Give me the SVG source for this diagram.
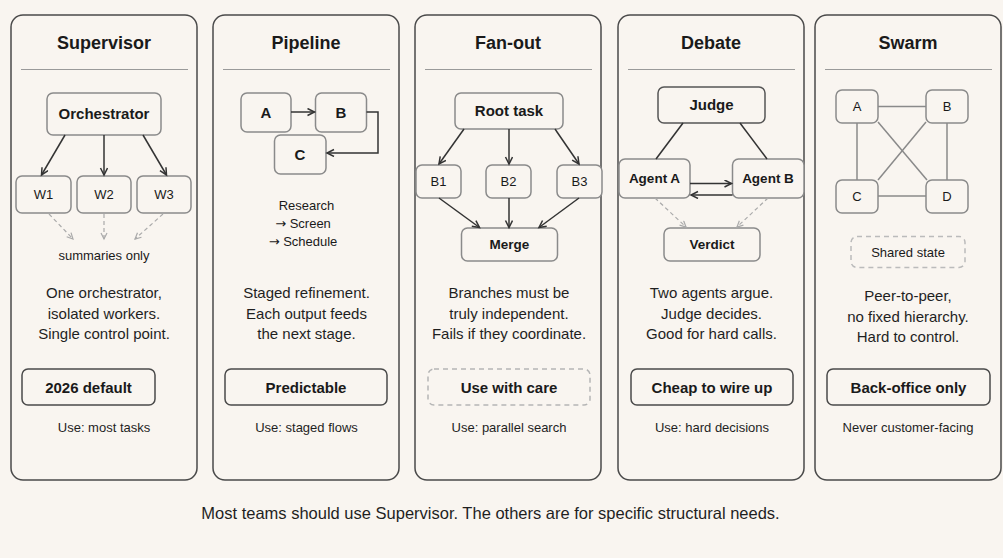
<svg xmlns="http://www.w3.org/2000/svg" width="1003" height="558" viewBox="0 0 1003 558">
<style>
.bg{fill:#f9f5f0}
.panel{fill:#f9f5f0;stroke:#4a4a4a;stroke-width:1.5}
.div{stroke:#9a9a9a;stroke-width:1}
.title{font-family:"Liberation Sans",Arial,sans-serif;font-weight:bold;font-size:18px;fill:#1a1a1a;text-anchor:middle}
.box{fill:#f9f5f0;stroke:#8a8a8a;stroke-width:1.5}
.boxd{fill:#f9f5f0;stroke:#555;stroke-width:1.5}
.nb{font-family:"Liberation Sans",Arial,sans-serif;font-weight:bold;font-size:15px;fill:#1a1a1a;text-anchor:middle}
.nbs{font-family:"Liberation Sans",Arial,sans-serif;font-weight:bold;font-size:13.5px;fill:#1a1a1a;text-anchor:middle}
.nn{font-family:"Liberation Sans",Arial,sans-serif;font-size:13px;fill:#1a1a1a;text-anchor:middle}
.ar{font-family:"DejaVu Sans",sans-serif}
.desc{font-family:"Liberation Sans",Arial,sans-serif;font-size:15px;fill:#1f1f1f;text-anchor:middle}
.use{font-family:"Liberation Sans",Arial,sans-serif;font-size:13px;fill:#1f1f1f;text-anchor:middle}
.badge{fill:none;stroke:#4a4a4a;stroke-width:1.5}
.badgedash{fill:none;stroke:#b5b5b5;stroke-width:1.5;stroke-dasharray:5 4}
.bt{font-family:"Liberation Sans",Arial,sans-serif;font-weight:bold;font-size:15px;fill:#1a1a1a;text-anchor:middle}
.arr{fill:none;stroke:#333;stroke-width:1.5;marker-end:url(#ah)}
.line{fill:none;stroke:#333;stroke-width:1.5}
.gline{fill:none;stroke:#8a8a8a;stroke-width:1.5}
.dash{fill:none;stroke:#aaa;stroke-width:1.2;stroke-dasharray:4 3;marker-end:url(#ahg)}
.foot{font-family:"Liberation Sans",Arial,sans-serif;font-size:16.5px;fill:#1f1f1f;text-anchor:middle}
</style>
<defs>
<marker id="ah" markerUnits="userSpaceOnUse" markerWidth="10" markerHeight="10" refX="8" refY="4" orient="auto"><path d="M1,0.5 L8,4 L1,7.5" fill="none" stroke="#333" stroke-width="1.5"/></marker>
<marker id="ahg" markerUnits="userSpaceOnUse" markerWidth="10" markerHeight="10" refX="7" refY="3.5" orient="auto"><path d="M1,0.5 L7,3.5 L1,6.5" fill="none" stroke="#aaa" stroke-width="1.2"/></marker>
</defs>
<rect class="bg" x="0" y="0" width="1003" height="558"/>

<!-- Panel 1: Supervisor -->
<g id="panel-supervisor">
<rect class="panel" x="11" y="15" width="186" height="465" rx="12"/>
<text class="title" x="104" y="48.5">Supervisor</text>
<line class="div" x1="21" y1="69.5" x2="188" y2="69.5"/>
<text class="desc" x="104" y="297.7">One orchestrator,</text>
<text class="desc" x="104" y="318.5">isolated workers.</text>
<text class="desc" x="104" y="339">Single control point.</text>
<rect class="badge" x="22" y="369" width="133" height="36" rx="6"/>
<text class="bt" x="88.5" y="392.5">2026 default</text>
<text class="use" x="104" y="431.5">Use: most tasks</text>
<text class="nn" x="104" y="259.5">summaries only</text>
</g>
<g id="node-orchestrator"><rect class="box" x="47" y="93" width="114" height="42" rx="6"/><text class="nb" x="104" y="119.4">Orchestrator</text></g>
<g id="node-w1"><rect class="box" x="16" y="176" width="55" height="37" rx="6"/><text class="nn" x="43.5" y="199">W1</text></g>
<g id="node-w2"><rect class="box" x="77" y="176" width="54" height="37" rx="6"/><text class="nn" x="104" y="199">W2</text></g>
<g id="node-w3"><rect class="box" x="137" y="176" width="54" height="37" rx="6"/><text class="nn" x="164" y="199">W3</text></g>

<!-- Panel 2: Pipeline -->
<g id="panel-pipeline">
<rect class="panel" x="213" y="15" width="186" height="465" rx="12"/>
<text class="title" x="306" y="48.5">Pipeline</text>
<line class="div" x1="223" y1="69.5" x2="390" y2="69.5"/>
<text class="nn" x="306.5" y="210">Research</text>
<text class="nn" x="303" y="228"><tspan class="ar">→</tspan> Screen</text>
<text class="nn" x="303" y="246"><tspan class="ar">→</tspan> Schedule</text>
<text class="desc" x="306.5" y="297.7">Staged refinement.</text>
<text class="desc" x="306.5" y="318.5">Each output feeds</text>
<text class="desc" x="306.5" y="339">the next stage.</text>
<rect class="badge" x="225" y="369" width="162" height="36" rx="6"/>
<text class="bt" x="306" y="392.5">Predictable</text>
<text class="use" x="306.5" y="431.5">Use: staged flows</text>
</g>
<g id="node-pa"><rect class="box" x="241" y="93" width="50" height="39" rx="6"/><text class="nb" x="266" y="117.9">A</text></g>
<g id="node-pb"><rect class="box" x="315.5" y="93" width="51" height="39" rx="6"/><text class="nb" x="341" y="117.9">B</text></g>
<g id="node-pc"><rect class="box" x="274.5" y="135" width="51.5" height="39" rx="6"/><text class="nb" x="300" y="159.9">C</text></g>

<!-- Panel 3: Fan-out -->
<g id="panel-fanout">
<rect class="panel" x="415" y="15" width="186" height="465" rx="12"/>
<text class="title" x="508" y="48.5">Fan-out</text>
<line class="div" x1="425" y1="69.5" x2="592" y2="69.5"/>
<text class="desc" x="509" y="297.7">Branches must be</text>
<text class="desc" x="509" y="318.5">truly independent.</text>
<text class="desc" x="509" y="339">Fails if they coordinate.</text>
<rect class="badgedash" x="428" y="369" width="162" height="36" rx="6"/>
<text class="bt" x="509" y="392.5">Use with care</text>
<text class="use" x="509" y="431.5">Use: parallel search</text>
</g>
<g id="node-root"><rect class="box" x="455" y="93" width="108" height="36" rx="6"/><text class="nb" x="509" y="116.4">Root task</text></g>
<g id="node-b1"><rect class="box" x="416" y="165" width="45" height="33" rx="6"/><text class="nn" x="438.5" y="186">B1</text></g>
<g id="node-b2"><rect class="box" x="486" y="165" width="45" height="33" rx="6"/><text class="nn" x="508.5" y="186">B2</text></g>
<g id="node-b3"><rect class="box" x="557" y="165" width="45" height="33" rx="6"/><text class="nn" x="579.5" y="186">B3</text></g>
<g id="node-merge"><rect class="box" x="461.5" y="228" width="96" height="33" rx="6"/><text class="nbs" x="509.5" y="249.3">Merge</text></g>

<!-- Panel 4: Debate -->
<g id="panel-debate">
<rect class="panel" x="618" y="15" width="186" height="465" rx="12"/>
<text class="title" x="711" y="48.5">Debate</text>
<line class="div" x1="628" y1="69.5" x2="795" y2="69.5"/>
<text class="desc" x="711.5" y="297.7">Two agents argue.</text>
<text class="desc" x="711.5" y="318.5">Judge decides.</text>
<text class="desc" x="711.5" y="339">Good for hard calls.</text>
<rect class="badge" x="631" y="369" width="162" height="36" rx="6"/>
<text class="bt" x="712" y="392.5">Cheap to wire up</text>
<text class="use" x="712" y="431.5">Use: hard decisions</text>
</g>
<g id="node-judge"><rect class="boxd" x="658" y="87" width="107" height="36" rx="6"/><text class="nb" x="711.5" y="110.4">Judge</text></g>
<g id="node-agenta"><rect class="box" x="619" y="159" width="71" height="39" rx="6"/><text class="nbs" x="654.5" y="183.3">Agent A</text></g>
<g id="node-agentb"><rect class="box" x="732.5" y="159" width="71.5" height="39" rx="6"/><text class="nbs" x="768" y="183.3">Agent B</text></g>
<g id="node-verdict"><rect class="box" x="664" y="228" width="96" height="33" rx="6"/><text class="nbs" x="712" y="249.3">Verdict</text></g>

<!-- Panel 5: Swarm -->
<g id="panel-swarm">
<rect class="panel" x="815" y="15" width="186" height="465" rx="12"/>
<text class="title" x="908" y="48.5">Swarm</text>
<line class="div" x1="825" y1="69.5" x2="992" y2="69.5"/>
<rect x="851" y="236.5" width="114" height="31" rx="6" fill="none" stroke="#bbb" stroke-width="1.5" stroke-dasharray="5 4"/>
<text class="nn" x="908" y="256.5">Shared state</text>
<text class="desc" x="908" y="301">Peer-to-peer,</text>
<text class="desc" x="908" y="321.5">no fixed hierarchy.</text>
<text class="desc" x="908" y="342">Hard to control.</text>
<rect class="badge" x="827" y="369" width="163" height="36" rx="6"/>
<text class="bt" x="908.5" y="392.5">Back-office only</text>
<text class="use" x="908" y="431.5">Never customer-facing</text>
</g>
<g id="node-sa"><rect class="box" x="836" y="90" width="42" height="33" rx="6"/><text class="nn" x="857" y="111">A</text></g>
<g id="node-sb"><rect class="box" x="926" y="90" width="42" height="33" rx="6"/><text class="nn" x="947" y="111">B</text></g>
<g id="node-sc"><rect class="box" x="836" y="180" width="42" height="33" rx="6"/><text class="nn" x="857" y="201">C</text></g>
<g id="node-sd"><rect class="box" x="926" y="180" width="42" height="33" rx="6"/><text class="nn" x="947" y="201">D</text></g>

<!-- Connectors -->
<g id="connectors">
<path class="arr" d="M65,135 L41.5,175"/>
<path class="arr" d="M104,135 L104,175"/>
<path class="arr" d="M143,135 L166.5,175"/>
<path class="dash" d="M49,214 L73,239"/>
<path class="dash" d="M104,214 L104,239"/>
<path class="dash" d="M163,214 L135,239"/>
<path class="arr" d="M291,112 L314.5,112"/>
<path class="arr" d="M366.5,112 L378,112 L378,153 L327,153"/>
<path class="arr" d="M464,129 L439,164"/>
<path class="arr" d="M509,129 L509,164"/>
<path class="arr" d="M555,129 L579,164"/>
<path class="arr" d="M439,198 L479.5,227.5"/>
<path class="arr" d="M509,198 L509,227.5"/>
<path class="arr" d="M579,198 L539,227.5"/>
<path class="line" d="M683,123 L656,159"/>
<path class="line" d="M740,123 L767,159"/>
<path class="arr" d="M690,183.5 L731.5,183.5"/>
<path class="arr" d="M732.5,195 L691,195"/>
<path class="dash" d="M655,198 L686,227"/>
<path class="dash" d="M768,198 L737,227"/>
<path class="gline" d="M878,106.5 L926,106.5"/>
<path class="gline" d="M878,196 L926,196"/>
<path class="gline" d="M857,123 L857,180"/>
<path class="gline" d="M947,123 L947,180"/>
<path class="gline" d="M878,122 L927,180"/>
<path class="gline" d="M926,122 L878,180"/>
</g>

<text class="foot" x="490.5" y="519">Most teams should use Supervisor. The others are for specific structural needs.</text>
</svg>
